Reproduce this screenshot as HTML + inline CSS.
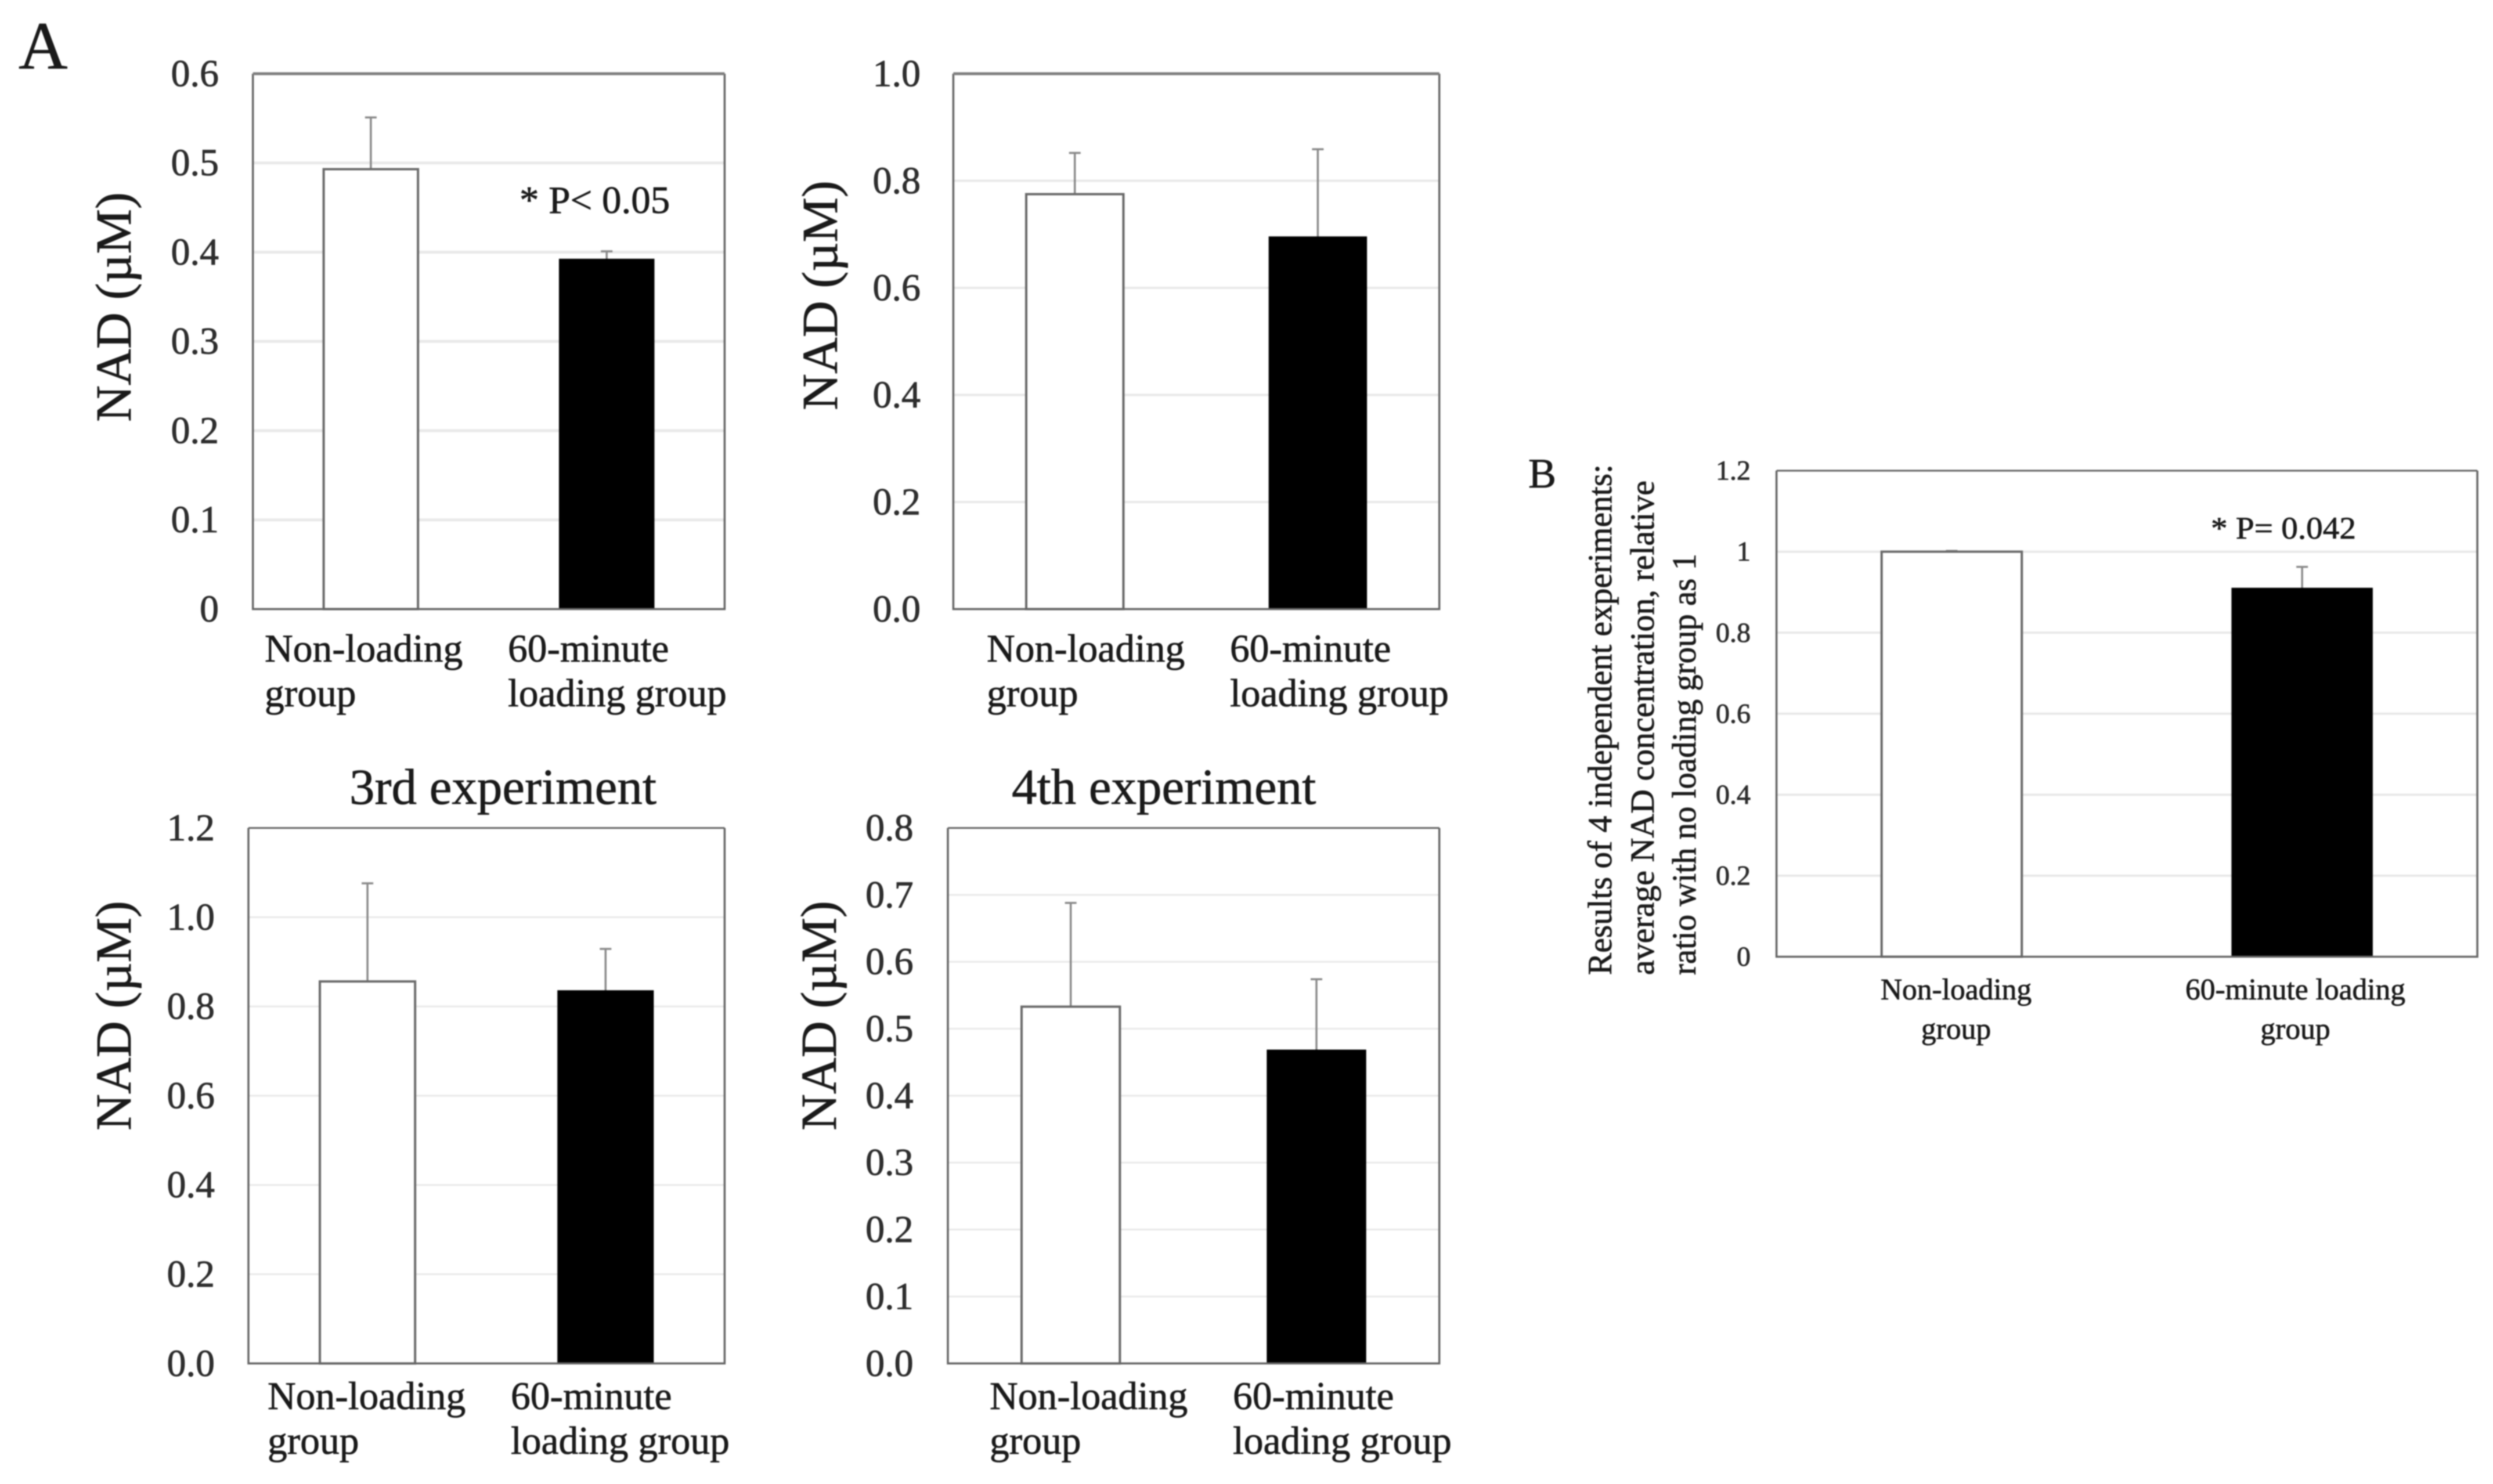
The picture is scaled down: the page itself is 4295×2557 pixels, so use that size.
<!DOCTYPE html>
<html lang="en">
<head>
<meta charset="utf-8">
<title>NAD concentration by loading group</title>
<style>
html,body{margin:0;padding:0;background:#fff;width:4295px;height:2557px;overflow:hidden}
svg{display:block;filter:blur(1px)}
text{font-family:"Liberation Serif","DejaVu Serif",serif;fill:#1a1a1a;stroke:#1a1a1a;stroke-width:0.8px}
</style>
</head>
<body>
<svg id="figure" xmlns="http://www.w3.org/2000/svg" width="4295" height="2557" viewBox="0 0 4295 2557">
  <rect x="0" y="0" width="4295" height="2557" fill="#ffffff"/>
  <text x="32" y="118" font-size="117">A</text>
  <text x="2633" y="840" font-size="72">B</text>
  <text x="602" y="1385" font-size="87">3rd experiment</text>
  <text x="1743" y="1385" font-size="87">4th experiment</text>
  <text x="895" y="367" font-size="67">* P&lt; 0.05</text>
  <text x="3809" y="928" font-size="54" textLength="250" lengthAdjust="spacingAndGlyphs">* P= 0.042</text>
  <g transform="translate(0,1680) rotate(-90)">
    <text x="0" y="2776" font-size="58" textLength="880" lengthAdjust="spacingAndGlyphs">Results of 4 independent experiments:</text>
    <text x="0" y="2849" font-size="58" textLength="852" lengthAdjust="spacingAndGlyphs">average NAD concentration, relative</text>
    <text x="0" y="2921" font-size="58" textLength="726" lengthAdjust="spacingAndGlyphs">ratio with no loading group as 1</text>
  </g>
</svg>
<script>
// ---- chart data ----
const exp1Means = [0.493, 0.392];
const exp1Errors = [0.058, 0.009];
const exp1Ticks = ['0', '0.1', '0.2', '0.3', '0.4', '0.5', '0.6'];

const exp2Means = [0.775, 0.695];
const exp2Errors = [0.077, 0.164];
const exp2Ticks = ['0.0', '0.2', '0.4', '0.6', '0.8', '1.0'];

const exp3Means = [0.856, 0.835];
const exp3Errors = [0.22, 0.094];
const exp3Ticks = ['0.0', '0.2', '0.4', '0.6', '0.8', '1.0', '1.2'];

const exp4Means = [0.533, 0.468];
const exp4Errors = [0.155, 0.106];
const exp4Ticks = ['0.0', '0.1', '0.2', '0.3', '0.4', '0.5', '0.6', '0.7', '0.8'];

const summaryMeans = [1.0, 0.9095];
const summaryErrors = [0.002, 0.053];
const summaryTicks = ['0', '0.2', '0.4', '0.6', '0.8', '1', '1.2'];

const categoryLinesA = [['Non-loading', 'group'], ['60-minute', 'loading group']];
const categoryLinesB = [['Non-loading', 'group'], ['60-minute loading', 'group']];
const yTitleA = 'NAD (\u00B5M)';

// ---- panel layout ----
const panels = [
  {id:'experiment-1', means:exp1Means, errors:exp1Errors, ticks:exp1Ticks, cats:categoryLinesA,
   left:435.7, right:1248.4, top:127, bottom:1049.5, tickRight:377, tickFont:66, topW:5, gridW:5,
   catX:[456, 875], catY:[1140, 1217], catFont:67.5, titleX:225, titleY:529, titleFont:87, anchor:'start'},
  {id:'experiment-2', means:exp2Means, errors:exp2Errors, ticks:exp2Ticks, cats:categoryLinesA,
   left:1642.4, right:2479.7, top:127, bottom:1049.5, tickRight:1586, tickFont:66, topW:5, gridW:4,
   catX:[1700, 2119], catY:[1140, 1217], catFont:67.5, titleX:1442, titleY:509, titleFont:87, anchor:'start'},
  {id:'experiment-3', means:exp3Means, errors:exp3Errors, ticks:exp3Ticks, cats:categoryLinesA,
   left:428, right:1248.4, top:1426.6, bottom:2349.3, tickRight:370, tickFont:66, topW:3, gridW:3,
   catX:[461, 880], catY:[2428, 2505], catFont:67.5, titleX:225, titleY:1750, titleFont:87, anchor:'start'},
  {id:'experiment-4', means:exp4Means, errors:exp4Errors, ticks:exp4Ticks, cats:categoryLinesA,
   left:1633, right:2479.7, top:1426.6, bottom:2349.3, tickRight:1573.6, tickFont:66, topW:3, gridW:3,
   catX:[1705, 2124], catY:[2428, 2505], catFont:67.5, titleX:1440, titleY:1750, titleFont:87, anchor:'start'},
  {id:'summary', means:summaryMeans, errors:summaryErrors, ticks:summaryTicks, cats:categoryLinesB,
   left:3060.6, right:4268, top:811, bottom:1648.5, tickRight:3016, tickFont:48, topW:3, gridW:4,
   catX:[3370, 3954.5], catY:[1722, 1790], catFont:51.5, titleX:null, titleY:null, titleFont:0, anchor:'middle'}
];

const svg = document.getElementById('figure');
const NS = 'http://www.w3.org/2000/svg';

function make(tag, attrs, parent) {
  const node = document.createElementNS(NS, tag);
  for (const key in attrs) node.setAttribute(key, attrs[key]);
  parent.appendChild(node);
  return node;
}

// axis functions
function yScale(panel, value) {
  const max = parseFloat(panel.ticks[panel.ticks.length - 1]);
  return panel.bottom - (value / max) * (panel.bottom - panel.top);
}
function xBand(panel) {
  return (panel.right - panel.left) / panel.means.length;
}
function xCenter(panel, index) {
  return panel.left + (index + 0.5) * xBand(panel);
}

function drawPanel(panel) {
  const group = make('g', {}, svg);
  
  

  // gridlines and tick labels
  panel.ticks.forEach(function (label) {
    const value = parseFloat(label);
    const y = yScale(panel, value);
    if (value > 0 && y > panel.top + 1) {
      const grid = make('line', {x1:panel.left, x2:panel.right, y1:y, y2:y, stroke:'#e9e9e9', 'stroke-width':panel.gridW}, group);
      
      
    }
    const tick = make('text', {x:panel.tickRight, y:y + panel.tickFont * 0.325, 'font-size':panel.tickFont, 'text-anchor':'end'}, group);
    
    
    tick.style.fill = '#2e2e2e';
    tick.textContent = label;
  });

  // bars with upper error bars
  panel.means.forEach(function (mean, i) {
    const cx = xCenter(panel, i);
    const w = xBand(panel) * 0.4;
    const yTop = yScale(panel, mean);
    const yErr = yScale(panel, mean + panel.errors[i]);

    const stem = make('line', {x1:cx, x2:cx, y1:yTop, y2:yErr, stroke:'#8a8a8a', 'stroke-width':3.5}, group);
    
    

    const cap = make('line', {x1:cx - 10, x2:cx + 10, y1:yErr, y2:yErr, stroke:'#8a8a8a', 'stroke-width':3.5}, group);
    
    

    const bar = make('rect', {
      x:cx - w / 2, y:yTop, width:w, height:panel.bottom - yTop,
      fill:i === 0 ? '#ffffff' : '#000000',
      stroke:i === 0 ? '#6a6a6a' : '#000000',
      'stroke-width':i === 0 ? 4 : 2
    }, group);
    
    

    // category label lines
    panel.cats[i].forEach(function (line, j) {
      const cat = make('text', {x:panel.catX[i], y:panel.catY[j], 'font-size':panel.catFont, 'text-anchor':panel.anchor}, group);
      
      
      cat.textContent = line;
    });
  });

  // plot frame
  const frame = make('path', {
    d:'M' + panel.left + ' ' + panel.top + 'V' + panel.bottom + 'H' + panel.right + 'V' + panel.top,
    fill:'none', stroke:'#666666', 'stroke-width':3.5
  }, group);
  
  

  const topEdge = make('line', {x1:panel.left, x2:panel.right, y1:panel.top, y2:panel.top, stroke:panel.topW > 3 ? '#808080' : '#666666', 'stroke-width':panel.topW}, group);
  
  

  // y-axis title
  if (panel.titleX !== null) {
    const title = make('text', {
      x:0, y:0, 'font-size':panel.titleFont, 'text-anchor':'middle',
      transform:'translate(' + panel.titleX + ',' + panel.titleY + ') rotate(-90)'
    }, group);
    
    
    title.textContent = yTitleA;
  }
}

panels.forEach(drawPanel);
</script>
</body>
</html>
